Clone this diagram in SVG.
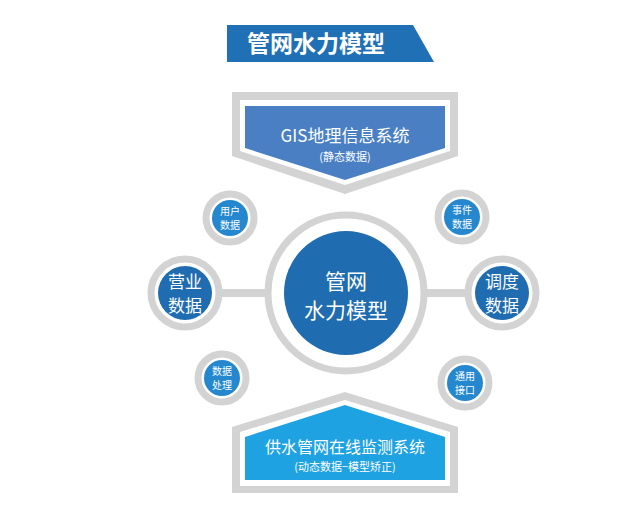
<svg xmlns="http://www.w3.org/2000/svg" width="640" height="521" viewBox="0 0 640 521">
<style>
text{font-family:"Noto Sans CJK SC","Liberation Sans",sans-serif;fill:#fff;text-anchor:middle}
.ring{fill:#fff;stroke:#d3d3d3;stroke-width:7}
.dk{fill:#1f6cb0}
.sm{fill:#2588cf}
</style>
<rect width="640" height="521" fill="#fff"/>
<g id="title"><polygon points="227,25 413,25 434,62 227,62" fill="#1f70b5"/><text x="316" y="52" font-size="23" font-weight="bold">管网水力模型</text></g>
<g id="connectors"><line x1="220" y1="293" x2="268" y2="293" stroke="#d3d3d3" stroke-width="8"/><line x1="425" y1="293" x2="468" y2="293" stroke="#d3d3d3" stroke-width="8"/></g>
<g id="gis"><polygon points="232,92 458,92 458,156 345,194 232,156" fill="#d3d3d3"/><polygon points="240,100 450,100 450,151 345,185 240,151" fill="#fff"/><polygon points="245,106 445,106 445,148 345,180 245,148" fill="#4a80c3"/>
<text x="345" y="142" font-size="17">GIS地理信息系统</text><text x="345" y="161" font-size="11">(静态数据)</text></g>
<g id="center"><circle cx="346" cy="293" r="78" class="ring"/><circle cx="346" cy="293" r="62" class="dk"/><text x="346" y="289" font-size="21">管网</text><text x="346" y="318" font-size="21">水力模型</text></g>
<g id="yingye"><circle cx="185" cy="293" r="34" class="ring"/><circle cx="185" cy="293" r="27" class="dk"/><text x="185" y="288" font-size="17">营业</text><text x="185" y="312" font-size="17">数据</text></g>
<g id="diaodu"><circle cx="502" cy="293" r="34" class="ring"/><circle cx="502" cy="293" r="27" class="dk"/><text x="502" y="288" font-size="17">调度</text><text x="502" y="312" font-size="17">数据</text></g>
<g id="yonghu"><circle cx="230" cy="218" r="24" class="ring"/><circle cx="230" cy="218" r="18" class="sm"/><text x="230" y="215" font-size="10">用户</text><text x="230" y="229" font-size="10">数据</text></g>
<g id="shijian"><circle cx="462" cy="217" r="24" class="ring"/><circle cx="462" cy="217" r="18" class="sm"/><text x="462" y="214" font-size="10">事件</text><text x="462" y="228" font-size="10">数据</text></g>
<g id="chuli"><circle cx="222" cy="378" r="24" class="ring"/><circle cx="222" cy="378" r="18" class="sm"/><text x="222" y="375" font-size="10">数据</text><text x="222" y="389" font-size="10">处理</text></g>
<g id="jiekou"><circle cx="465" cy="383" r="24" class="ring"/><circle cx="465" cy="383" r="18" class="sm"/><text x="465" y="380" font-size="10">通用</text><text x="465" y="394" font-size="10">接口</text></g>
<g id="jiance"><polygon points="345,392 458,427 458,493 232,493 232,427" fill="#d3d3d3"/><polygon points="345,400 450,432 450,486 240,486 240,432" fill="#fff"/><polygon points="345,405 445,437 445,480 245,480 245,437" fill="#1ea2e2"/>
<text x="345" y="453" font-size="16">供水管网在线监测系统</text><text x="345" y="471" font-size="11">(动态数据−模型矫正)</text></g>
</svg>
